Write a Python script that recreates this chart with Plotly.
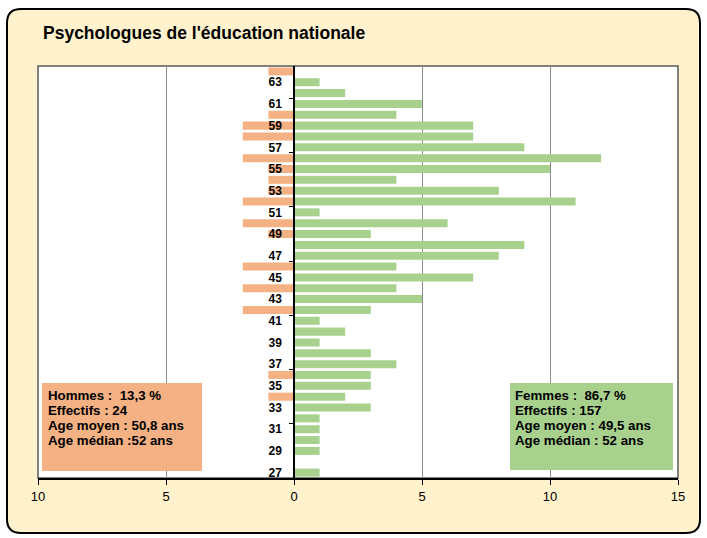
import plotly.graph_objects as go

# ---- data ----
ages = list(range(27, 65))
hommes = [0, 0, 0, 0, 0, 0, 0, 1, 0, 1, 0, 0, 0, 0, 0, 2, 0, 2, 0, 2, 0, 0, 1, 2, 0, 2, 1, 1, 1, 2, 0, 2, 2, 1, 0, 0, 0, 1]
femmes = [1, 0, 1, 1, 1, 1, 3, 2, 3, 3, 4, 3, 1, 2, 1, 3, 5, 4, 7, 4, 8, 9, 3, 6, 1, 11, 8, 4, 10, 12, 9, 7, 7, 4, 5, 2, 1, 0]
x_ticks = [-10, -5, 0, 5, 10, 15]
x_tick_labels = ["10", "5", "0", "5", "10", "15"]
y_ticks = list(range(27, 64, 2))
title_text = "Psychologues de l'éducation nationale"
lines_h = ["Hommes :  13,3 %", "Effectifs : 24", "Age moyen : 50,8 ans", "Age médian :52 ans"]
lines_f = ["Femmes :  86,7 %", "Effectifs : 157", "Age moyen : 49,5 ans", "Age médian : 52 ans"]

ORANGE = "#F4B183"
GREEN = "#A9D18E"
CREAM = "#FFF2CC"
FONT = "Liberation Sans, Arial, sans-serif"

W, H = 707, 538
L, R, T, B = 38, 678, 66, 478


def fx(px):
    return (px - L) / (R - L)


def fy(py):
    return (B - py) / (B - T)


def rounded(x0, y0, x1, y1, r):
    p = [
        f"M {fx(x0 + r)},{fy(y0)}",
        f"L {fx(x1 - r)},{fy(y0)}",
        f"Q {fx(x1)},{fy(y0)} {fx(x1)},{fy(y0 + r)}",
        f"L {fx(x1)},{fy(y1 - r)}",
        f"Q {fx(x1)},{fy(y1)} {fx(x1 - r)},{fy(y1)}",
        f"L {fx(x0 + r)},{fy(y1)}",
        f"Q {fx(x0)},{fy(y1)} {fx(x0)},{fy(y1 - r)}",
        f"L {fx(x0)},{fy(y0 + r)}",
        f"Q {fx(x0)},{fy(y0)} {fx(x0 + r)},{fy(y0)}",
        "Z",
    ]
    return " ".join(p)


fig = go.Figure()
fig.add_trace(go.Bar(
    y=ages, x=[-v for v in hommes], orientation="h", name="Hommes",
    marker=dict(color=ORANGE, line=dict(width=0)),
    customdata=hommes, hovertemplate="%{y} ans : %{customdata}<extra>Hommes</extra>",
))
fig.add_trace(go.Bar(
    y=ages, x=femmes, orientation="h", name="Femmes",
    marker=dict(color=GREEN, line=dict(width=0)),
    hovertemplate="%{y} ans : %{x}<extra>Femmes</extra>",
))

shapes = [
    dict(type="path", xref="paper", yref="paper", path=rounded(7, 9, 700, 533, 14),
         fillcolor=CREAM, line=dict(color="black", width=2), layer="below"),
    dict(type="rect", xref="paper", yref="paper", x0=0, x1=1, y0=0, y1=1,
         fillcolor="white", line=dict(color="#595959", width=1.5), layer="below"),
    dict(type="rect", xref="paper", yref="paper", x0=fx(42), x1=fx(202), y0=fy(471), y1=fy(383),
         fillcolor=ORANGE, line=dict(width=0), layer="above"),
    dict(type="rect", xref="paper", yref="paper", x0=fx(510), x1=fx(673), y0=fy(470), y1=fy(383),
         fillcolor=GREEN, line=dict(width=0), layer="above"),
]

annotations = [
    dict(xref="paper", yref="paper", x=fx(41), y=fy(33), xanchor="left", yanchor="middle",
         text="<b>" + title_text + "</b>", showarrow=False, align="left",
         font=dict(family=FONT, size=17.5, color="black")),
]
for i, t in enumerate(lines_h):
    annotations.append(dict(
        xref="paper", yref="paper", x=fx(46), y=fy(395 + 15.3 * i), xanchor="left", yanchor="middle",
        text="<b>" + t + "</b>", showarrow=False, align="left",
        font=dict(family=FONT, size=13.3, color="black")))
for i, t in enumerate(lines_f):
    annotations.append(dict(
        xref="paper", yref="paper", x=fx(513), y=fy(395 + 15.3 * i), xanchor="left", yanchor="middle",
        text="<b>" + t + "</b>", showarrow=False, align="left",
        font=dict(family=FONT, size=13.3, color="black")))

fig.update_layout(
    width=W, height=H,
    margin=dict(l=L, r=W - R, t=T, b=H - B),
    paper_bgcolor="white", plot_bgcolor="white",
    barmode="relative", bargap=0.26,
    showlegend=False,
    shapes=shapes, annotations=annotations,
    font=dict(family=FONT, color="black"),
    xaxis=dict(
        range=[-10, 15], tickvals=x_ticks, ticktext=x_tick_labels,
        showgrid=True, gridcolor="#8c8c8c", gridwidth=1, zeroline=False,
        showline=True, linecolor="black", linewidth=2,
        ticks="outside", ticklen=5, tickcolor="black", tickwidth=1,
        tickfont=dict(family=FONT, size=13, color="black"),
    ),
    yaxis=dict(
        range=[26.5, 64.5], tickvals=y_ticks, ticks="", showgrid=False, zeroline=False,
        anchor="free", position=0.4, showline=True, linecolor="black", linewidth=1.5,
        tickfont=dict(family=FONT, size=12, color="black", weight="bold"),
        ticklabelstandoff=9,
        minor=dict(tick0=31.5, dtick=5, ticks="outside", ticklen=4, tickcolor="black",
                   showgrid=False),
    ),
)

fig.write_html("out.html", config={"displayModeBar": False},
               post_script="document.body.style.margin='0';")
